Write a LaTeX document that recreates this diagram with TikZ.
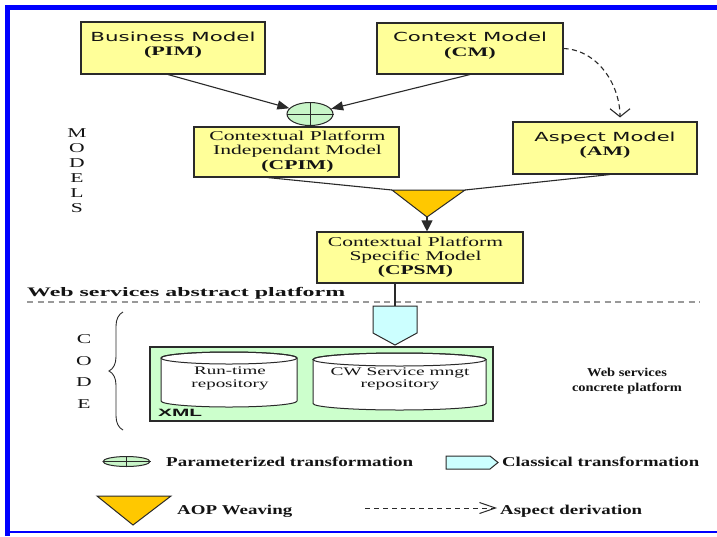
\documentclass[tikz,border=0pt]{standalone}
\usepackage{fontspec}
\setmainfont{Liberation Serif}
\newfontfamily\sansf{DejaVu Sans}
\newfontfamily\arialf{Liberation Sans}
\usetikzlibrary{arrows.meta,shapes.geometric,calc,decorations.pathreplacing}
\definecolor{boxyellow}{HTML}{FFFF99}
\definecolor{pgreen}{HTML}{C8F5C8}
\definecolor{xmlgreen}{HTML}{CCFFCC}
\definecolor{weave}{HTML}{FFC800}
\definecolor{classic}{HTML}{CCFFFF}
\definecolor{frameblue}{HTML}{0000FF}
\definecolor{ink}{HTML}{141414}
\definecolor{edge}{HTML}{2A2A2A}
\definecolor{sepgray}{HTML}{999999}
% stretch a box horizontally to a given width, keeping its height
\newcommand\fitw[2]{\resizebox{#1pt}{\height}{#2}}
\newcommand\cellstack[1]{\begin{tabular}{@{}c@{}}#1\end{tabular}}
\begin{document}
\begin{tikzpicture}[x=1pt,y=1pt,
  mbox/.style={draw=edge, line width=1.1pt, fill=boxyellow, inner sep=0pt},
  conn/.style={draw=edge, line width=1.1pt},
  fhead/.style={-{Triangle[length=12pt,width=9pt]}},
  lbl/.style={inner sep=0pt, text=ink},
  shapefill/.style={draw=edge, line width=1pt},
]
\useasboundingbox (0,0) rectangle (717,-536);
\fill[white] (0,0) rectangle (717,-536);

% frame
\fill[frameblue] (5,-5) rectangle (717,-10);
\fill[frameblue] (5,-5) rectangle (10,-536);
\fill[frameblue] (5,-530.5) rectangle (717,-533);

% model boxes
\node[mbox, minimum width=184pt, minimum height=52pt] (bm) at (173,-48) {};
\node[mbox, minimum width=186pt, minimum height=51pt] (cm) at (470,-48.5) {};
\node[mbox, minimum width=184pt, minimum height=52pt] (am) at (605,-148) {};
\node[mbox, minimum width=205pt, minimum height=50pt] (cpim) at (296.5,-152) {};
\node[mbox, minimum width=206pt, minimum height=51pt] (cpsm) at (420,-257.5) {};

\node[lbl] (bm-t) at ([yshift=2.5pt]bm.center)
  {\fitw{165}{\fontsize{12.5}{14.3}\selectfont\cellstack{\sansf Business Model\\ \fontsize{13}{14.3}\selectfont\bfseries (PIM)}}};
\node[lbl] (cm-t) at ([yshift=2.5pt]cm.center)
  {\fitw{154}{\fontsize{12.5}{14.3}\selectfont\cellstack{\sansf Context Model\\ \fontsize{13}{14.3}\selectfont\bfseries (CM)}}};
\node[lbl] (am-t) at ([yshift=2.5pt]am.center)
  {\fitw{141}{\fontsize{12.5}{14.3}\selectfont\cellstack{\sansf Aspect Model\\ \fontsize{13}{14.3}\selectfont\bfseries (AM)}}};
\node[lbl] (cpim-t) at ([xshift=1pt]cpim.center)
  {\fitw{176}{\fontsize{13.5}{14.3}\selectfont\cellstack{Contextual Platform\\ Independant Model\\ \bfseries (CPIM)}}};
\node[lbl] (cpsm-t) at ([xshift=-4.5pt]cpsm.center)
  {\fitw{175}{\fontsize{13.5}{14.3}\selectfont\cellstack{Contextual Platform\\ Specific Model\\ \bfseries (CPSM)}}};

% parameterized transformation
\node[ellipse, shapefill, fill=pgreen, minimum width=46pt, minimum height=23pt, inner sep=0pt] (par) at (310,-114) {};
\draw[edge, line width=1pt] (par.north) -- (par.south) (par.west) -- (par.east);
\draw[conn, fhead] ($(bm.south)+(-5,0)$) -- (par);
\draw[conn, fhead] (cm.south) -- (par);

% aspect derivation
\draw[conn, dash pattern=on 5pt off 3.5pt, -{Straight Barb[length=8pt,width=20pt]}]
  (cm.east) .. controls (598,-50) and (620,-85) .. ([xshift=15pt,yshift=4pt]am.north);

% AOP weaving
\coordinate (wvL) at (392,-190);
\coordinate (wvR) at (465,-190);
\coordinate (wvA) at (427,-217);
\draw[conn] ($(cpim.south west)!0.36!(cpim.south east)$) -- (wvL);
\draw[conn] ($(am.south west)!0.526!(am.south east)$) -- (wvR);
\filldraw[shapefill, fill=weave] (wvL) -- (wvR) -- (wvA) -- cycle;
\draw[conn, -{Triangle[length=11pt,width=11pt]}] (wvA) -- (wvA |- cpsm.north);

% side captions
\node[lbl] (models) at (77,-172)
  {\scalebox{1.6}[1]{\fontsize{13.5}{15}\selectfont\cellstack{M\\O\\D\\E\\L\\S}}};
\node[lbl] (code) at (84,-371.5)
  {\scalebox{1.6}[1]{\fontsize{13.5}{21.5}\selectfont\cellstack{C\\O\\D\\E}}};
\coordinate (brB) at (123,-430);
\coordinate (brT) at (123,-312);
\draw[edge, line width=0.9pt, decorate, decoration={brace, amplitude=14pt}] (brB) -- (brT);

% platform separator
\node[lbl, anchor=base west] (wsap) at (27,-296.5)
  {\fitw{318}{\fontsize{13}{15}\selectfont\bfseries Web services abstract platform}};
\coordinate (sepL) at (27,-302);
\coordinate (sepR) at (700,-302);
\draw[sepgray, line width=1.2pt, dash pattern=on 6pt off 4.5pt] (sepL) -- (sepR);

% classical transformation
\coordinate (clT) at (395,-306);
\filldraw[shapefill, fill=classic] (373,-306) -- (417,-306) -- (417,-333) -- (395,-345) -- (373,-333) -- cycle;
\draw[conn] (clT |- cpsm.south) -- (clT);

% concrete platform
\node[draw=edge, line width=1.1pt, fill=xmlgreen, minimum width=343pt, minimum height=74pt, inner sep=0pt] (xml) at (321.5,-384) {};
\node[lbl, anchor=base west] (xml-t) at (158,-416)
  {\fitw{44}{\arialf\bfseries\fontsize{10.6}{12}\selectfont XML}};

% repositories
\filldraw[shapefill, fill=white] (161,-358) -- (161,-401)
  arc[start angle=180, end angle=360, x radius=68, y radius=6] -- (297,-358)
  arc[start angle=0, end angle=180, x radius=68, y radius=6] -- cycle;
\draw[shapefill] (229,-358) ellipse[x radius=68, y radius=6];
\node[lbl] (rt) at (230,-378.3)
  {\fitw{77}{\fontsize{11.6}{12.5}\selectfont\cellstack{Run-time\\repository}}};

\filldraw[shapefill, fill=white] (313,-359.5) -- (313,-403.5)
  arc[start angle=180, end angle=360, x radius=86.5, y radius=6.5] -- (486,-359.5)
  arc[start angle=0, end angle=180, x radius=86.5, y radius=6.5] -- cycle;
\draw[shapefill] (399.5,-359.5) ellipse[x radius=86.5, y radius=6.5];
\node[lbl] (cw) at (400,-378.8)
  {\fitw{139}{\fontsize{11.6}{12.5}\selectfont\cellstack{CW Service mngt\\repository}}};

\node[lbl] (wscp) at (627,-381)
  {\fitw{110}{\fontsize{12}{15}\selectfont\bfseries\cellstack{Web services\\concrete platform}}};

% legend
\node[ellipse, shapefill, fill=pgreen, minimum width=47pt, minimum height=10pt, inner sep=0pt] (lg-par) at (126.5,-461.5) {};
\draw[edge, line width=1pt] (lg-par.north) -- (lg-par.south) (lg-par.west) -- (lg-par.east);
\node[lbl, anchor=base west] (lg-par-t) at (166,-466.5)
  {\fitw{247}{\fontsize{13.5}{15}\selectfont\bfseries Parameterized transformation}};

\filldraw[shapefill, fill=classic] (446,-456) -- (490,-456) -- (498,-462.5) -- (490,-469) -- (446,-469) -- cycle;
\node[lbl, anchor=base west] (lg-cl-t) at (502,-466.5)
  {\fitw{197}{\fontsize{13.5}{15}\selectfont\bfseries Classical transformation}};

\filldraw[shapefill, fill=weave] (97,-496) -- (171,-496) -- (133,-525) -- cycle;
\node[lbl, anchor=base west] (lg-wv-t) at (177,-514.5)
  {\fitw{115}{\fontsize{13.5}{15}\selectfont\bfseries AOP Weaving}};

\coordinate (lgdA) at (365,-508);
\coordinate (lgdB) at (497,-508);
\draw[edge, line width=1pt, dash pattern=on 5pt off 4pt, -{Straight Barb[length=16pt,width=11pt]}] (lgdA) -- (lgdB);
\node[lbl, anchor=base west] (lg-ad-t) at (500,-514.5)
  {\fitw{142}{\fontsize{13.5}{15}\selectfont\bfseries Aspect derivation}};
\end{tikzpicture}
\end{document}
